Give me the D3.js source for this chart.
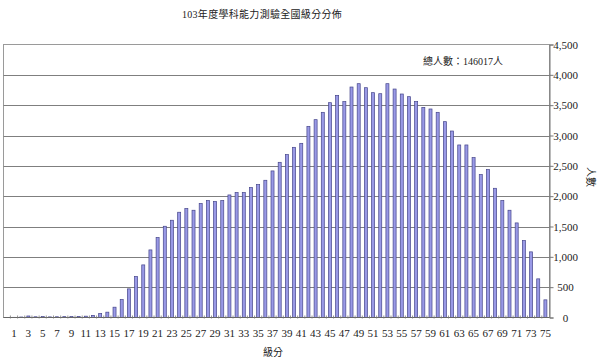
<!DOCTYPE html>
<html>
<head>
<meta charset="utf-8">
<script src="https://cdn.jsdelivr.net/npm/d3@7"></script>
<style>
  html, body { margin: 0; padding: 0; background: #fff; }
  svg { display: block; }
  text { font-family: "Liberation Serif", "Noto Sans CJK TC", serif; fill: #222; }
</style>
</head>
<body>
<svg id="chart" width="600" height="360"></svg>
<script>
// ---- data ----
const chartTitle = "103年度學科能力測驗全國級分分佈";
const totalNote = "總人數：146017人";
const xAxisTitle = "級分";
const yAxisTitle = "人數";
const categories = ["1","2","3","4","5","6","7","8","9","10","11","12","13","14","15","16","17","18","19","20",
  "21","22","23","24","25","26","27","28","29","30","31","32","33","34","35","36","37","38","39","40",
  "41","42","43","44","45","46","47","48","49","50","51","52","53","54","55","56","57","58","59","60",
  "61","62","63","64","65","66","67","68","69","70","71","72","73","74","75"];
const counts = [3, 8, 25, 12, 15, 10, 12, 14, 15, 18, 22, 35,
  66, 88, 170, 296, 472, 675, 867, 1114, 1318, 1504, 1603, 1735, 1795, 1768, 1878, 1927, 1910, 1927,
  2020, 2059, 2059, 2141, 2190, 2262, 2416, 2558, 2685, 2805, 2871, 3151, 3261, 3382, 3541, 3662,
  3558, 3799, 3854, 3788, 3706, 3689, 3854,
  3766, 3684, 3640, 3558, 3464, 3437, 3382, 3228, 3074, 2844, 2844, 2635, 2355, 2438, 2130, 1927,
  1768, 1559, 1268, 1082, 637, 291];
const xTickLabels = ["1","3","5","7","9","11","13","15","17","19","21","23","25","27","29","31","33","35","37","39",
  "41","43","45","47","49","51","53","55","57","59","61","63","65","67","69","71","73","75"];
const yTickValues = [0, 500, 1000, 1500, 2000, 2500, 3000, 3500, 4000, 4500];

// ---- layout ----
const svg = d3.select("#chart");
const frameLeft = 3.5, plotRight = 549.5, plotTop = 44.5, plotBottom = 317.5;

const x = d3.scaleBand().domain(categories).range([10.4, 549]).paddingInner(0.58).paddingOuter(0.29);
const y = d3.scaleLinear().domain([0, 4500]).range([plotBottom, plotTop]);

// frame
svg.append("rect")
  .attr("x", frameLeft).attr("y", plotTop)
  .attr("width", plotRight - frameLeft).attr("height", plotBottom - plotTop)
  .attr("fill", "none").attr("stroke", "#9a9a9a").attr("stroke-width", 1);

// gridlines
svg.append("g").selectAll("line").data(yTickValues.filter(v => v > 0 && v < 4500)).join("line")
  .attr("x1", frameLeft).attr("x2", plotRight)
  .attr("y1", d => Math.round(y(d)) + 0.5).attr("y2", d => Math.round(y(d)) + 0.5)
  .attr("stroke", "#7f7f7f").attr("stroke-width", 1);

// bars
svg.append("g").selectAll("rect").data(counts).join("rect")
  .attr("x", (d, i) => x(categories[i]))
  .attr("y", d => y(d))
  .attr("width", x.bandwidth())
  .attr("height", d => plotBottom - y(d))
  .attr("fill", "#9999e6")
  .attr("stroke", "#45458a")
  .attr("stroke-width", 0.7);

// bottom axis line + category ticks
const xAxisG = svg.append("g").attr("transform", `translate(0,${plotBottom})`);
xAxisG.append("line").attr("x1", frameLeft).attr("x2", plotRight).attr("y1", 0).attr("y2", 0)
  .attr("stroke", "#666").attr("stroke-width", 1);
xAxisG.selectAll("line.tk").data(categories).join("line").attr("class", "tk")
  .attr("x1", d => x(d) - x.step() * x.paddingInner() / 2)
  .attr("x2", d => x(d) - x.step() * x.paddingInner() / 2)
  .attr("y1", -2).attr("y2", 1)
  .attr("stroke", "#777").attr("stroke-width", 0.8);
xAxisG.selectAll("text").data(xTickLabels).join("text")
  .attr("x", d => x(d) + x.bandwidth() / 2)
  .attr("y", 19)
  .attr("text-anchor", "middle")
  .attr("font-size", 11)
  .text(d => d);

// right axis
const yAxis = d3.axisRight(y).tickValues(yTickValues).tickSize(4).tickFormat(d3.format(","));
const yAxisG = svg.append("g").attr("transform", `translate(${plotRight},0)`).call(yAxis);
yAxisG.select(".domain").attr("stroke", "#777");
yAxisG.selectAll(".tick line").attr("stroke", "#777");
yAxisG.selectAll(".tick text")
  .attr("x", 16).attr("text-anchor", "middle")
  .attr("font-size", 11)
  .attr("font-family", "Liberation Serif, serif")
  .attr("fill", "#222");

// titles
svg.append("text").attr("x", 262).attr("y", 18).attr("text-anchor", "middle")
  .attr("font-size", 10).attr("fill", "#555").attr("letter-spacing", 0.3).text(chartTitle);
svg.append("text").attr("x", 463).attr("y", 65).attr("text-anchor", "middle")
  .attr("font-size", 10).attr("fill", "#555").text(totalNote);
svg.append("text").attr("x", 273).attr("y", 356).attr("text-anchor", "middle")
  .attr("font-size", 10).attr("fill", "#555").text(xAxisTitle);
svg.append("text").attr("transform", "translate(587,177) rotate(90)").attr("text-anchor", "middle")
  .attr("font-size", 10).attr("fill", "#555").text(yAxisTitle);
</script>
</body>
</html>
